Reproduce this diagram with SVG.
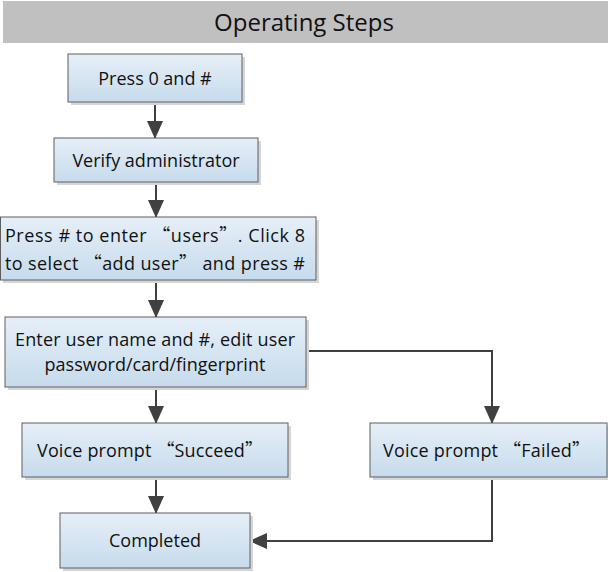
<svg xmlns="http://www.w3.org/2000/svg" width="608" height="572" viewBox="0 0 608 572">
<defs>
<linearGradient id="bg" x1="0" y1="0" x2="0" y2="1">
<stop offset="0" stop-color="#e6eff8"/>
<stop offset="1" stop-color="#c6dbec"/>
</linearGradient>
<marker id="ah" markerUnits="userSpaceOnUse" markerWidth="18" markerHeight="18" viewBox="0 0 18 18" refX="17" refY="9" orient="auto">
<path d="M0,1 L18,9 L0,17 z" fill="#404040"/>
</marker>
</defs>
<style>
.box{fill:url(#bg);stroke:#5e5e5e;stroke-width:1}
.sh{fill:#d6d6d6}
.t{font-family:"Open Sans","Noto Sans",sans-serif;font-size:18px;fill:#111;text-anchor:middle}
.tl{font-family:"Open Sans","Noto Sans",sans-serif;font-size:18px;fill:#111}
.q{font-family:"Noto Sans CJK SC",sans-serif}
.c{fill:none;stroke:#404040;stroke-width:2}
</style>
<g id="header">
<rect x="3" y="1" width="605" height="42" fill="#c0c0c0"/>
<text x="304" y="31" font-family="'Open Sans','Noto Sans',sans-serif" font-size="24" fill="#111" text-anchor="middle">Operating Steps</text>
</g>
<g id="connectors">
<line class="c" x1="155" y1="102" x2="155" y2="138" marker-end="url(#ah)"/>
<line class="c" x1="156" y1="182" x2="156" y2="217" marker-end="url(#ah)"/>
<line class="c" x1="156" y1="280" x2="156" y2="317" marker-end="url(#ah)"/>
<line class="c" x1="156" y1="387" x2="156" y2="423" marker-end="url(#ah)"/>
<line class="c" x1="156" y1="477" x2="156" y2="513" marker-end="url(#ah)"/>
<polyline class="c" points="306,351 492,351 492,423" marker-end="url(#ah)"/>
<polyline class="c" points="492,477 492,541 250,541" marker-end="url(#ah)"/>
</g>
<g id="n1">
<rect class="sh" x="71" y="57" width="174" height="48"/>
<rect class="box" x="68" y="54" width="174" height="48"/>
<text class="t" x="155" y="85">Press 0 and #</text>
</g>
<g id="n2">
<rect class="sh" x="57" y="141" width="204" height="44"/>
<rect class="box" x="54" y="138" width="204" height="44"/>
<text class="t" x="156" y="167">Verify administrator</text>
</g>
<g id="n3">
<rect class="sh" x="3" y="220" width="316" height="63"/>
<rect class="box" x="0.5" y="217" width="315.5" height="63"/>
<text class="tl" x="5" y="242" textLength="300" lengthAdjust="spacing">Press # to enter <tspan class="q">“</tspan>users<tspan class="q">”</tspan>. Click 8</text>
<text class="tl" x="5" y="270" textLength="300" lengthAdjust="spacing">to select <tspan class="q">“</tspan>add user<tspan class="q">”</tspan> and press #</text>
</g>
<g id="n4">
<rect class="sh" x="8" y="320" width="301" height="70"/>
<rect class="box" x="5" y="317" width="301" height="70"/>
<text class="tl" x="15" y="346" textLength="280" lengthAdjust="spacing">Enter user name and #, edit user</text>
<text class="t" x="155" y="371">password/card/fingerprint</text>
</g>
<g id="n5">
<rect class="sh" x="25" y="426" width="266" height="54"/>
<rect class="box" x="22" y="423" width="266" height="54"/>
<text class="tl" x="37" y="457" textLength="226" lengthAdjust="spacing">Voice prompt <tspan class="q">“</tspan>Succeed<tspan class="q">”</tspan></text>
</g>
<g id="n6">
<rect class="sh" x="63" y="516" width="190" height="55"/>
<rect class="box" x="60" y="513" width="190" height="55"/>
<text class="t" x="155" y="547">Completed</text>
</g>
<g id="n7">
<rect class="sh" x="373" y="426" width="237" height="54"/>
<rect class="box" x="370" y="423" width="237" height="54"/>
<text class="tl" x="383" y="457" textLength="207" lengthAdjust="spacing">Voice prompt <tspan class="q">“</tspan>Failed<tspan class="q">”</tspan></text>
</g>
</svg>
